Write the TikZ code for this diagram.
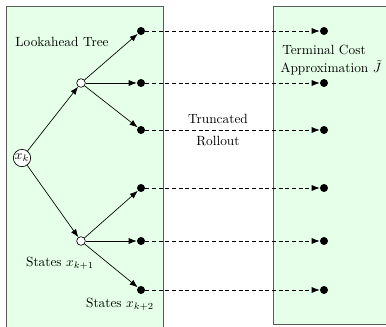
\documentclass[tikz,border=0pt]{standalone}
\usetikzlibrary{arrows.meta}
\definecolor{panelfill}{RGB}{230,255,232}
\definecolor{panelline}{RGB}{90,90,90}
\begin{document}
\begin{tikzpicture}[x=0.75pt,y=-0.75pt,
  panel/.style={draw=panelline,fill=panelfill,line width=0.7pt},
  root/.style={circle,draw,fill=white,inner sep=0pt,minimum size=13pt,line width=0.5pt},
  mid/.style={circle,draw,fill=white,inner sep=0pt,minimum size=6.5pt,line width=0.5pt},
  leaf/.style={circle,fill=black,inner sep=0pt,minimum size=6pt},
  branch/.style={-{Latex[length=6pt,width=4.5pt]},line width=0.5pt},
  rollout/.style={dashed,-{Latex[length=6pt,width=4.5pt]},line width=0.55pt,dash pattern=on 3pt off 2pt},
  lbl/.style={font=\normalsize,inner sep=0pt}]
\clip (0,0) rectangle (386,326);
\useasboundingbox (0,0) rectangle (386,326);
% panels
\draw[panel] (6,6) rectangle (163,345);
\draw[panel] (273,6) rectangle (400,324);
% tree nodes
\node[root] (xk) at (22,158) {$x_k$};
\node[mid] (u) at (81,83) {};
\node[mid] (d) at (81,241) {};
\foreach \n/\y in {1/31,2/83,3/130,4/188,5/241,6/290}{
  \node[leaf] (l\n) at (141,\y) {};
  \node[leaf] (r\n) at (324,\y) {};
}
% branches
\draw[branch] (xk) -- (u);
\draw[branch] (xk) -- (d);
\draw[branch] (u) -- (l1);
\draw[branch] (u) -- (l2);
\draw[branch] (u) -- (l3);
\draw[branch] (d) -- (l4);
\draw[branch] (d) -- (l5);
\draw[branch] (d) -- (l6);
% truncated rollouts
\foreach \n in {1,...,6}{\draw[rollout] (l\n) -- (r\n);}
% labels
\node[lbl] (lt) at (62,42) {Lookahead Tree};
\node[lbl] (s1) at (60,263) {States $x_{k+1}$};
\node[lbl] (s2) at (120,304) {States $x_{k+2}$};
\node[lbl] (tr) at (218,119) {Truncated};
\node[lbl] (ro) at (218,141) {Rollout};
\node[lbl] (tc) at (324,50) {Terminal Cost};
\node[lbl] (ap) at (331,68) {Approximation $\tilde{J}$};
\end{tikzpicture}
\end{document}
